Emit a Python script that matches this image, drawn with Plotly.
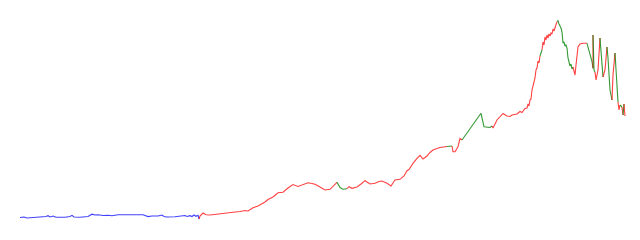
import plotly.graph_objects as go

# x position (time index) and value (pixel-ish units)
x_vals = [20,24,27,32,40,46,48,50,53,56,65,70,72,74,80,88,92,95,98,103,108,112,118,125,135,143,148,152,158,162,164,167,175,182,185,187,190,192,194,196,198,199,
          200,203,206,210,220,227,233,240,245,248,253,258,263,265,268,273,278,283,288,293,298,303,308,312,315,320,325,330,334,337,
          340,343,347,
          349,352,357,361,365,370,375,379,382,387,391,395,400,404,407,409,411,413,417,420,423,427,430,433,437,440,447,
          452,
          453,455,458,460,462,
          481,484,487,490,492,
          493,497,500,503,507,510,512,517,520,522,525,527,528,529,530,531,532,533,534,535,536,537,538,539,540,
          541,542,
          543,544,545,546,547,548,549,550,551,552,553,554,555,556,557,
          558,559,560,561,562,563,564,565,566,567,568,569,570,571,572,573,
          575,576,577,578,580,583,587,
          588,590,592,593,
          593,
          594,595,
          596,598,600,
          601,603,
          605,607,
          608,610,612,
          613,615,
          617,618,
          619,620,
          622,
          623,
          624,
          625]
y_px = [217.5,217,218,217.5,217.3,216.5,215.7,217,216,217.3,217.3,216.5,215.3,217,217.3,216.5,214.2,215,214.7,215.5,215.2,215.8,214.8,214.6,214.6,214.8,216.6,216,216,215,216.5,217,216.7,216.2,215.5,216.5,215.7,216.5,215,216.3,215.3,219,
        216,213,214.8,215,213.5,213,212.3,211.5,210.5,211,207.8,206,203.5,202,199.5,197,192.8,192.2,188,184.5,186.5,184.5,182.7,183.5,184.3,187,190,189.3,185,182.3,
        187.5,189.3,188.7,
        186.7,188.3,187,184,180.7,184,183.3,181.5,181,183.3,186,180,179.3,176,170.7,169.5,166,163.3,158.3,155.3,159,156,152.5,150,148.5,147.5,146.5,
        146,
        151.7,151.7,146.7,138.5,140,
        113.3,126.7,127.3,127.5,126,
        128,120,117,113.5,116,116.5,115,114,111.5,112.5,108.5,108,104,106,100,99,90,86,80,78,70,68,61,63,56,
        52,50,
        42,45,37,40,35,38,34,36,33,34,29,31,27,25,21.7,
        20.7,24,26,28,32,43,42,46,45,48,58,61,66,64,69,67,
        75,65,53,47,44,43.3,43.3,
        46.7,54,61.7,68.3,
        35,
        70,72,
        80,70,38,
        50,77,
        70,47,
        58,90,100,
        75,53,
        87,102,
        110,105,
        107,
        115,
        104,
        116]
y_vals = [240 - v for v in y_px]

# colour runs: colour of the segments ending at each point
seg_runs = [("b", 42), ("r", 30), ("g", 3), ("r", 27), ("g", 1), ("r", 5), ("g", 5), ("r", 25),
            ("g", 2), ("r", 15), ("g", 16), ("r", 7), ("g", 4), ("r", 1), ("g", 2), ("r", 3),
            ("g", 2), ("r", 2), ("g", 3), ("r", 2), ("g", 2), ("r", 2), ("g", 1), ("r", 1), ("g", 1), ("r", 1)]
seg_colors = []
for c, k in seg_runs:
    seg_colors += [c] * k
assert len(seg_colors) == len(x_vals) == len(y_vals), (len(seg_colors), len(x_vals), len(y_vals))

palette = {"b": "rgba(0,0,255,0.75)", "r": "rgba(255,0,0,0.75)", "g": "rgba(0,128,0,0.8)"}

fig = go.Figure()
n = len(x_vals)
i = 1
while i < n:
    c = seg_colors[i]
    j = i
    while j + 1 < n and seg_colors[j + 1] == c:
        j += 1
    fig.add_trace(go.Scatter(x=x_vals[i - 1:j + 1], y=y_vals[i - 1:j + 1], mode="lines",
                             line=dict(color=palette[c], width=1.1), showlegend=False,
                             hoverinfo="skip"))
    i = j + 1

fig.update_layout(width=640, height=240, margin=dict(l=0, r=0, t=0, b=0),
                  paper_bgcolor="white", plot_bgcolor="white")
fig.update_xaxes(visible=False, range=[0, 640])
fig.update_yaxes(visible=False, range=[0, 240])
fig.write_html("out.html")
